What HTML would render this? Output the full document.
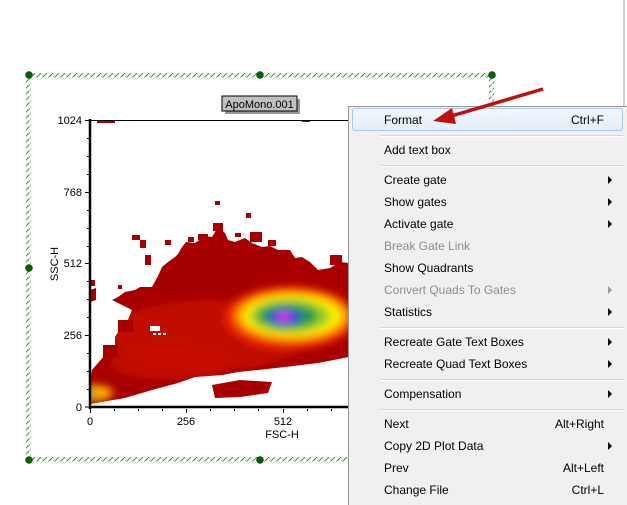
<!DOCTYPE html>
<html><head><meta charset="utf-8"><style>
html,body{margin:0;padding:0;background:#fff;width:627px;height:505px;overflow:hidden;position:relative;font-family:"Liberation Sans",sans-serif}
.menu{position:absolute;left:348px;top:106px;width:290px;height:410px;background:#f0f0f0;border:1px solid #979797;box-sizing:border-box}
.it{position:absolute;left:384px;font-size:12px;color:#000;line-height:14px}
.dis{color:#8d8d8d}
.sc{position:absolute;right:23px;font-size:12px;line-height:14px}
.ar{position:absolute;left:608px;width:0;height:0;border-top:4px solid transparent;border-bottom:4px solid transparent;border-left:4px solid #000}
.sep{position:absolute;left:380px;width:244px;height:1px;background:#d7d7d7;border-bottom:1px solid #fff}
</style></head><body>
<svg width="627" height="505" style="position:absolute;left:0;top:0">
<defs>
<pattern id="h" x="0" y="0" width="6" height="6" patternUnits="userSpaceOnUse"><line x1="0.5" y1="5.5" x2="5.5" y2="0.5" stroke="#1a9a1a" stroke-width="0.9"/></pattern>
<clipPath id="cb"><path d="M90,404 L125,398 152,390 178,383 195,377 222,375 238,372 258,370 285,367 318,363 349,357 349,263 340,262 330,268 318,270 310,262 302,257 295,258 290,250 278,250 270,246 262,247 252,243 245,238 235,242 228,240 225,233 218,227 212,237 205,236 195,243 186,242 182,247 178,254 175,257 168,262 162,267 158,276 152,287 140,287 135,290 125,292 118,297 112,300 120,304 132,310 128,320 122,326 115,337 115,350 105,355 98,363 92,370 90,380 Z M212,385 L240,380 272,382 268,393 240,397 215,398 Z M90,290 L96,288 96,300 90,302Z"/></clipPath>
<filter id="bl"><feGaussianBlur stdDeviation="4"/></filter>
</defs>
<rect x="27" y="73" width="467" height="5" fill="url(#h)"/>
<rect x="27" y="457" width="467" height="5" fill="url(#h)"/>
<rect x="26" y="73" width="5" height="390" fill="url(#h)"/>
<rect x="489" y="73" width="5" height="390" fill="url(#h)"/>
<g fill="#006400" stroke="#003000" stroke-width="0.5">
<circle cx="29" cy="75" r="3.5"/><circle cx="260" cy="75" r="3.5"/><circle cx="492" cy="75" r="3.5"/>
<circle cx="29" cy="268" r="3.5"/><circle cx="29" cy="460" r="3.5"/><circle cx="260" cy="460" r="3.5"/></g>
<rect x="33" y="79" width="455" height="377" fill="#fff"/>
<rect x="225" y="99" width="75" height="15" fill="#555" opacity="0.6"/>
<rect x="222" y="96" width="75" height="15" fill="#c0c0c0" stroke="#000" stroke-width="1"/>
<text x="259.5" y="108" font-size="11" text-anchor="middle" font-family="Liberation Sans">ApoMono.001</text>
<g clip-path="url(#cb)">
<rect x="88" y="220" width="262" height="190" fill="#a80000"/>
<g filter="url(#bl)">
<ellipse cx="210" cy="335" rx="100" ry="35" fill="#c00800"/>
<ellipse cx="170" cy="362" rx="60" ry="18" fill="#cc0c00" opacity="0.7"/>
<ellipse cx="290" cy="318" rx="66" ry="32" fill="#e82000"/>
<ellipse cx="292" cy="316" rx="58" ry="26" fill="#ff8800"/>
<ellipse cx="292" cy="316" rx="50" ry="21" fill="#ffee00"/>
<ellipse cx="290" cy="316" rx="40" ry="17" fill="#99cc22"/>
<ellipse cx="288" cy="316" rx="30" ry="12" fill="#1a9a50"/>
<ellipse cx="285" cy="317" rx="17" ry="8" fill="#4444dd"/>
<ellipse cx="284" cy="317" rx="6" ry="4" fill="#ee22ee"/>
<ellipse cx="95" cy="393" rx="18" ry="8" fill="#ffaa00"/>
<ellipse cx="91" cy="393" rx="5" ry="4" fill="#33aa33"/>
</g></g>
<g fill="#a80000">
<rect x="132" y="235" width="8" height="5"/><rect x="140" y="240" width="6" height="8"/><rect x="165" y="240" width="6" height="5"/>
<rect x="188" y="237" width="6" height="5"/><rect x="246" y="213" width="5" height="5"/><rect x="235" y="233" width="6" height="4"/>
<rect x="90" y="280" width="5" height="6"/><rect x="118" y="285" width="4" height="4"/><rect x="215" y="201" width="5" height="4"/>
<rect x="97" y="120" width="18" height="3"/><rect x="302" y="120" width="8" height="2"/>
<rect x="213" y="223" width="10" height="8"/><rect x="250" y="232" width="12" height="10"/><rect x="268" y="240" width="8" height="6"/>
<rect x="198" y="234" width="10" height="6"/><rect x="145" y="255" width="6" height="10"/><rect x="330" y="255" width="12" height="10"/>
<rect x="118" y="320" width="15" height="12"/><rect x="103" y="345" width="15" height="12"/></g>
<g fill="#fff"><rect x="150" y="326" width="10" height="5"/><rect x="153" y="333" width="3" height="2"/><rect x="158" y="333" width="3" height="2"/><rect x="163" y="333" width="3" height="2"/></g>
<line x1="90" y1="120.5" x2="350" y2="120.5" stroke="#000"/>
<line x1="90" y1="119" x2="90" y2="409" stroke="#000" stroke-width="2.5"/>
<line x1="89" y1="407" x2="350" y2="407" stroke="#000" stroke-width="2.5"/>
<g stroke="#000" stroke-width="1">
<path d="M85,120.5H89M85,192.5H89M85,263.5H89M85,335.5H89M85,407H89"/>
<path d="M87,138.5H89M87,156.5H89M87,174.5H89M87,210.5H89M87,228.5H89M87,246.5H89M87,281.5H89M87,299.5H89M87,317.5H89M87,353.5H89M87,371.5H89M87,389.5H89"/>
<path d="M90.5,409V413M186.5,409V413M283.5,409V413"/>
<path d="M114.5,409V411M138.5,409V411M162.5,409V411M210.5,409V411M234.5,409V411M258.5,409V411M307.5,409V411M331.5,409V411"/>
</g>
<g font-size="11" font-family="Liberation Sans" text-anchor="end">
<text x="82" y="124">1024</text><text x="82" y="196">768</text><text x="82" y="267">512</text><text x="82" y="339">256</text><text x="82" y="411">0</text></g>
<g font-size="11" font-family="Liberation Sans" text-anchor="middle">
<text x="90" y="425">0</text><text x="186" y="425">256</text><text x="283" y="425">512</text><text x="282" y="438">FSC-H</text></g>
<text transform="translate(58,264) rotate(-90)" font-size="11" font-family="Liberation Sans" text-anchor="middle">SSC-H</text>
<line x1="624" y1="0" x2="624" y2="106" stroke="#a0a0a0"/>
</svg>
<div class="menu"></div>
<div style="position:absolute;left:352px;top:108px;width:269px;height:21px;border:1px solid #a8c8ec;border-radius:3px;background:linear-gradient(#f4f8fd,#e3edf9)"></div>
<div class="it" style="top:113px">Format</div><div class="sc" style="top:113px">Ctrl+F</div>
<div class="sep" style="top:135px"></div>
<div class="it" style="top:143px">Add text box</div>
<div class="sep" style="top:165px"></div>
<div class="it" style="top:173px">Create gate</div><div class="ar" style="top:176px"></div>
<div class="it" style="top:195px">Show gates</div><div class="ar" style="top:198px"></div>
<div class="it" style="top:217px">Activate gate</div><div class="ar" style="top:220px"></div>
<div class="it dis" style="top:239px">Break Gate Link</div>
<div class="it" style="top:261px">Show Quadrants</div>
<div class="it dis" style="top:283px">Convert Quads To Gates</div><div class="ar" style="top:286px;border-left-color:#999"></div>
<div class="it" style="top:305px">Statistics</div><div class="ar" style="top:308px"></div>
<div class="sep" style="top:327px"></div>
<div class="it" style="top:335px">Recreate Gate Text Boxes</div><div class="ar" style="top:338px"></div>
<div class="it" style="top:357px">Recreate Quad Text Boxes</div><div class="ar" style="top:360px"></div>
<div class="sep" style="top:379px"></div>
<div class="it" style="top:387px">Compensation</div><div class="ar" style="top:390px"></div>
<div class="sep" style="top:409px"></div>
<div class="it" style="top:417px">Next</div><div class="sc" style="top:417px">Alt+Right</div>
<div class="it" style="top:439px">Copy 2D Plot Data</div><div class="ar" style="top:442px"></div>
<div class="it" style="top:461px">Prev</div><div class="sc" style="top:461px">Alt+Left</div>
<div class="it" style="top:483px">Change File</div><div class="sc" style="top:483px">Ctrl+L</div>
<svg width="627" height="505" style="position:absolute;left:0;top:0">
<line x1="543" y1="89" x2="448" y2="117" stroke="#c0100e" stroke-width="3.5"/>
<polygon points="433,121 452,108 456,124" fill="#c0100e"/>
</svg>
</body></html>
